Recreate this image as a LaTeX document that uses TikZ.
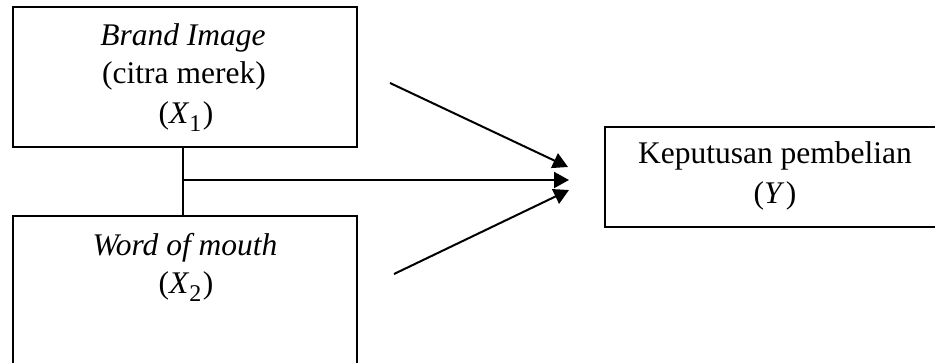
\documentclass[tikz,border=0pt]{standalone}
\usepackage{fontspec}
\setmainfont{Liberation Serif}
\usetikzlibrary{arrows.meta}
\newcommand{\varsub}[2]{(\textit{#1}\raisebox{-0.28em}{\fontsize{24}{24}\selectfont #2}\kern0.05em)}
\begin{document}
\begin{tikzpicture}[x=1pt,y=-1pt,
  box/.style={draw=black, line width=2pt, minimum width=#1, anchor=north west, inner sep=0pt},
  txt/.style={anchor=base, inner sep=0pt, font=\fontsize{31.5}{39}\selectfont},
  link/.style={draw=black, line width=1.3pt},
  arr/.style={draw=black, line width=2pt, -{Triangle[length=15pt,width=16pt]}}]
\useasboundingbox (0,0) rectangle (935,362);
\clip (0,0) rectangle (935,362);
% boxes
\node[box=344pt, minimum height=140pt] (b1) at (12,6) {};
\node[box=344pt, minimum height=190pt] (b2) at (12,215) {};
\node[box=340pt, minimum height=100pt] (by) at (604,126) {};
% texts
\node[txt] (t11) at (183,45) {\itshape Brand Image};
\node[txt] (t12) at (184,83) {(citra merek)};
\node[txt] (t13) at (186,123) {\varsub{X}{1}};
\node[txt] (t21) at (185,255) {\itshape Word of mouth};
\node[txt] (t22) at (186,293) {\varsub{X}{2}};
\node[txt] (ty1) at (775,163) {Keputusan pembelian};
\node[txt] (ty2) at (775,203) {(\textit{Y}\kern0.05em)};
% connectors
\coordinate (j) at (183,180);
\coordinate (a1s) at (390,83);
\coordinate (a1e) at (568,167);
\coordinate (a2e) at (569,180);
\coordinate (a3s) at (394,274);
\coordinate (a3e) at (569,190);
\draw[link] (b1.south -| j) -- (b2.north -| j);
\draw[arr] (j) -- (a2e);
\draw[arr] (a1s) -- (a1e);
\draw[arr] (a3s) -- (a3e);
\end{tikzpicture}
\end{document}
